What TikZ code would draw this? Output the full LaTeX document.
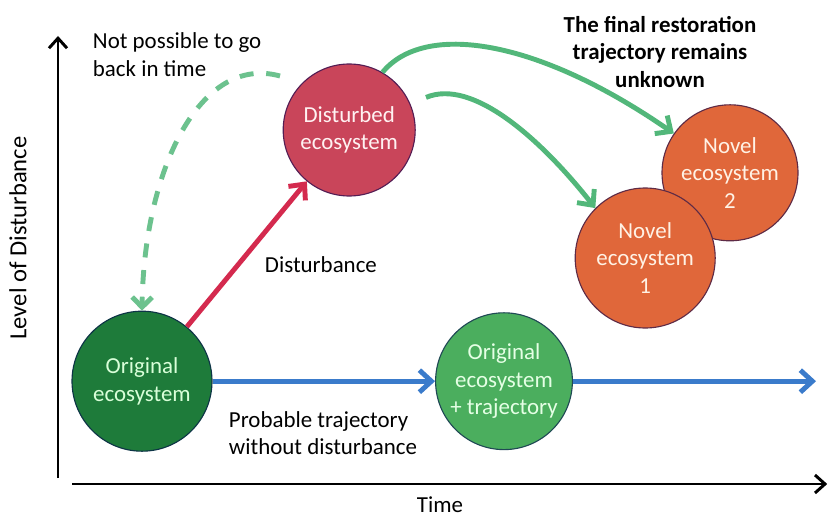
\documentclass[tikz,border=0pt]{standalone}
\usepackage{fontspec}
\setmainfont{Carlito}
\usetikzlibrary{arrows.meta}
\usetikzlibrary{positioning}

\definecolor{origgreen}{HTML}{1E7B3A}
\definecolor{trajgreen}{HTML}{4BAE5E}
\definecolor{distred}{HTML}{C9455A}
\definecolor{novelorange}{HTML}{E0673A}
\definecolor{arrowgreen}{HTML}{52B77A}
\definecolor{trajblue}{HTML}{3A7BCB}
\definecolor{distarrow}{HTML}{D42A4E}

\begin{document}
\begin{tikzpicture}[
	eco/.style={circle, draw=#1!70!blue!60!black, line width=0.8pt, fill=#1, align=center, inner sep=0pt, font=\fontsize{16.3}{19.5}\selectfont},
	lbl/.style={align=left, font=\fontsize{16.3}{19.5}\selectfont},
	tip/.style={-{Straight Barb[length=3mm, width=5.5mm]}},
	thick line/.style={line width=3.5pt}
]
	\useasboundingbox (0,0) rectangle (20.7,12.95);

	% --- Axes ---
	\coordinate (yfoot) at (1.45,1.0);
	\coordinate (ytop) at (1.45,12.05);
	\coordinate (xfoot) at (1.8,0.85);
	\coordinate (xend) at (20.68,0.85);
	\draw[line width=2.1pt, -{Straight Barb[length=2.5mm, width=4.5mm]}] (yfoot) -- (ytop);
	\draw[line width=2.1pt, -{Straight Barb[length=2.5mm, width=4.5mm]}] (xfoot) -- (xend);
	\node[rotate=90, font=\fontsize{17.5}{20}\selectfont] (ylabel) at (0.45,7.0) {Level of Disturbance};
	\node[font=\fontsize{16.3}{19.5}\selectfont] (xlabel) at (11.0,0.33) {Time};

	% --- Ecosystems ---
	\node[eco=origgreen, minimum size=3.5cm, text=green!15!white] (orig) at (3.55,3.42) {Original\\ecosystem};
	\node[eco=distred, minimum size=3.3cm, text=red!5!white] (dist) at (8.73,9.7) {Disturbed\\ecosystem};
	\node[eco=novelorange, minimum size=3.4cm, text=orange!10!white] (nov2) at (18.25,8.63) {Novel\\ecosystem\\2};
	\node[eco=novelorange, minimum size=3.5cm, text=orange!10!white] (nov1) at (16.13,6.5) {Novel\\ecosystem\\1};
	\node[eco=trajgreen, minimum size=3.42cm, text=green!10!white] (traj) at (12.6,3.42) {Original\\ecosystem\\+ trajectory};

	% --- Trajectories ---
	\coordinate (future) at (20.4,3.42);
	\draw[thick line, trajblue, tip] (orig) -- (traj);
	\draw[thick line, trajblue, tip] (traj) -- (future);

	\draw[thick line, distarrow, tip] (orig) -- (dist);

	% back in time (dashed)
	\coordinate (back) at (7.0,11.05);
	\draw[thick line, arrowgreen!85!white, dash pattern=on 10pt off 9pt, -{Straight Barb[length=2.5mm, width=5mm]}] (back) .. controls (5.0,11.6) and (3.6,8.7) .. (orig.north);

	% restoration trajectories
	\draw[thick line, arrowgreen, tip] (dist.60) .. controls (10.6,12.4) and (13.4,12.0) .. (nov2.145);
	\draw[thick line, arrowgreen, tip, shorten <=12pt] (dist.23) .. controls (11.8,11.0) and (13.5,9.5) .. (nov1.135);

	% --- Labels ---
	\node[lbl, anchor=west] (backlbl) at (2.2,11.58) {Not possible to go\\back in time};
	\node[lbl, anchor=west] (distlbl) at (6.5,6.33) {Disturbance};
	\node[lbl, anchor=west] (problbl) at (5.6,2.12) {Probable trajectory\\without disturbance};
	\node[align=center, font=\bfseries\fontsize{16.3}{19.5}\selectfont] (finallbl) at (16.5,11.65) {The final restoration\\trajectory remains\\unknown};
\end{tikzpicture}
\end{document}
